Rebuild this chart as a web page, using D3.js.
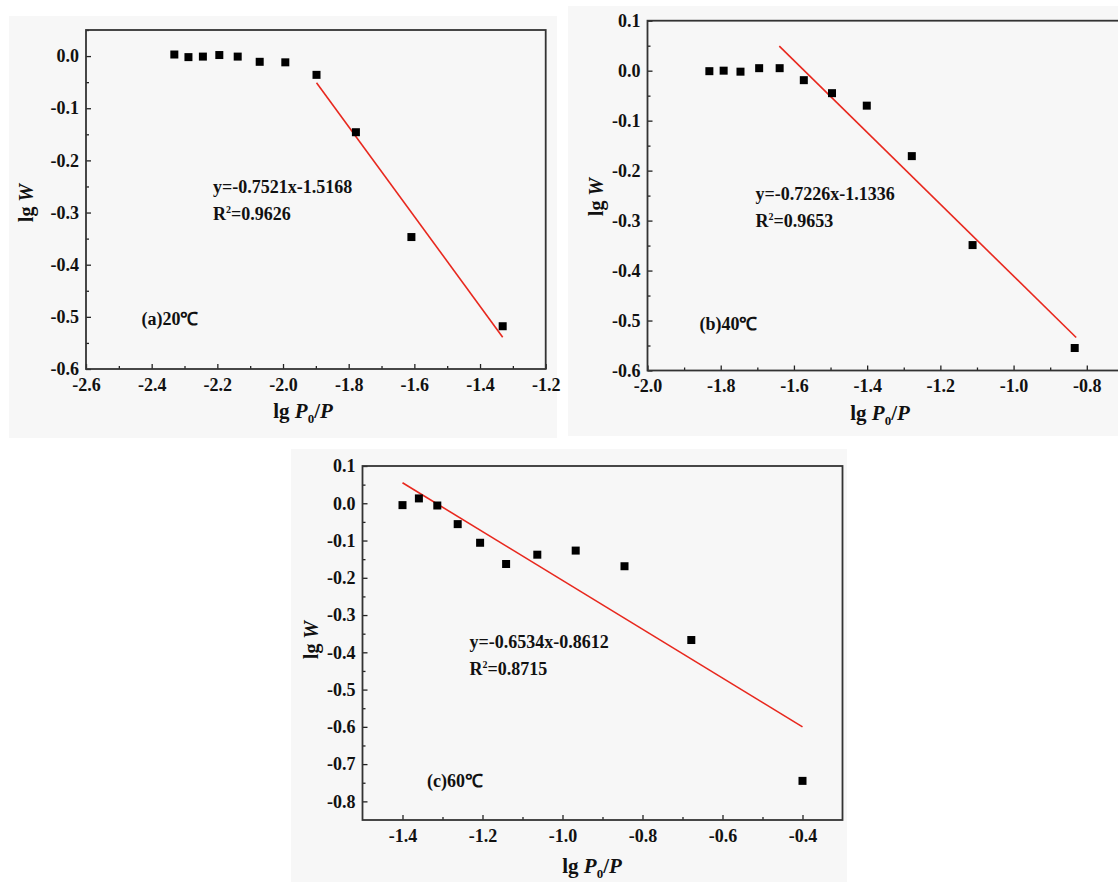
<!DOCTYPE html>
<html>
<head>
<meta charset="utf-8">
<script src="https://cdn.jsdelivr.net/npm/d3@7/dist/d3.min.js"></script>
<style>
  html, body { margin: 0; padding: 0; background: #ffffff; }
  svg { display: block; }
  text { font-family: "Liberation Serif", "Times New Roman", serif; font-weight: bold; fill: #111; }
</style>
</head>
<body>
<svg id="chart" width="1118" height="882"></svg>
<script>
// ---------------- DATA ----------------
// Panel (a) 20 ℃
const aX = [-2.331, -2.288, -2.244, -2.194, -2.138, -2.071, -1.993, -1.898, -1.778, -1.609, -1.331];
const aY = [0.003, -0.002, -0.001, 0.002, -0.001, -0.011, -0.012, -0.036, -0.146, -0.347, -0.518];
const aFitX = [-1.898, -1.331];
const aFitY = [-0.051, -0.539];
// Panel (b) 40 ℃
const bX = [-1.831, -1.792, -1.746, -1.695, -1.639, -1.573, -1.496, -1.401, -1.278, -1.112, -0.833];
const bY = [-0.001, 0.000, -0.002, 0.005, 0.005, -0.019, -0.045, -0.070, -0.171, -0.349, -0.555];
const bFitX = [-1.640, -0.829];
const bFitY = [0.049, -0.534];
// Panel (c) 60 ℃
const cX = [-1.400, -1.359, -1.313, -1.262, -1.206, -1.141, -1.063, -0.967, -0.845, -0.678, -0.400];
const cY = [-0.005, 0.013, -0.006, -0.056, -0.106, -0.163, -0.138, -0.127, -0.169, -0.367, -0.745];
const cFitX = [-1.40, -0.40];
const cFitY = [0.055, -0.600];

// Tick values / labels
const aXTicks = [-2.6, -2.4, -2.2, -2.0, -1.8, -1.6, -1.4, -1.2];
const aXMinor = [-2.5, -2.3, -2.1, -1.9, -1.7, -1.5, -1.3];
const aYTicks = [0.0, -0.1, -0.2, -0.3, -0.4, -0.5, -0.6];
const aYMinor = [0.05, -0.05, -0.15, -0.25, -0.35, -0.45, -0.55];
const bXTicks = [-2.0, -1.8, -1.6, -1.4, -1.2, -1.0, -0.8];
const bXMinor = [-1.9, -1.7, -1.5, -1.3, -1.1, -0.9];
const bYTicks = [0.1, 0.0, -0.1, -0.2, -0.3, -0.4, -0.5, -0.6];
const bYMinor = [0.05, -0.05, -0.15, -0.25, -0.35, -0.45, -0.55];
const cXTicks = [-1.4, -1.2, -1.0, -0.8, -0.6, -0.4];
const cXMinor = [-1.3, -1.1, -0.9, -0.7, -0.5];
const cYTicks = [0.1, 0.0, -0.1, -0.2, -0.3, -0.4, -0.5, -0.6, -0.7, -0.8];
const cYMinor = [0.05, -0.05, -0.15, -0.25, -0.35, -0.45, -0.55, -0.65, -0.75];

const eqTexts = ["y=-0.7521x-1.5168", "y=-0.7226x-1.1336", "y=-0.6534x-0.8612"];
const r2Values = ["0.9626", "0.9653", "0.8715"];
const panelLabels = ["(a)20\u2103", "(b)40\u2103", "(c)60\u2103"];

// ---------------- LAYOUT ----------------
const svg = d3.select("#chart");
const fmt = v => (Math.abs(v) < 1e-9 ? "0.0" : v.toFixed(1));

const panels = [
  { bg: [9, 16, 548, 422], box: [86, 30, 545.7, 369], xd: [-2.6, -1.2], yd: [-0.6, 0.05],
    X: aX, Y: aY, fX: aFitX, fY: aFitY, xt: aXTicks, xm: aXMinor, yt: aYTicks, ym: aYMinor,
    eq: [213, 193, 220], lab: [141.5, 325], xTitle: [303, 418], yTitle: [26, 203] },
  { bg: [568, 6, 560, 430], box: [647.5, 20.7, 1123.4, 370.5], xd: [-2.0, -0.7], yd: [-0.6, 0.1],
    X: bX, Y: bY, fX: bFitX, fY: bFitY, xt: bXTicks, xm: bXMinor, yt: bYTicks, ym: bYMinor,
    eq: [755.5, 200, 227], lab: [699.5, 330], xTitle: [880, 420], yTitle: [596, 197] },
  { bg: [291, 449, 556, 433], box: [362.5, 466, 842.5, 820], xd: [-1.5, -0.3], yd: [-0.85, 0.1],
    X: cX, Y: cY, fX: cFitX, fY: cFitY, xt: cXTicks, xm: cXMinor, yt: cYTicks, ym: cYMinor,
    eq: [469.5, 648, 675], lab: [427, 787], xTitle: [592, 873], yTitle: [311, 640] }
];

panels.forEach((p, i) => {
  const [x0, y0, x1, y1] = p.box;
  const x = d3.scaleLinear().domain(p.xd).range([x0, x1]);
  const y = d3.scaleLinear().domain(p.yd).range([y1, y0]);
  const g = svg.append("g");

  g.append("rect").attr("x", p.bg[0]).attr("y", p.bg[1]).attr("width", p.bg[2]).attr("height", p.bg[3])
    .attr("fill", "#f7f7f7");

  // minor ticks
  g.append("g").attr("transform", `translate(0,${y1})`)
    .call(d3.axisBottom(x).tickValues(p.xm).tickSize(-3).tickFormat(""))
    .call(a => a.select(".domain").remove());
  g.append("g").attr("transform", `translate(${x0},0)`)
    .call(d3.axisLeft(y).tickValues(p.ym).tickSize(-3).tickFormat(""))
    .call(a => a.select(".domain").remove());
  // major ticks
  const xa = g.append("g").attr("transform", `translate(0,${y1})`)
    .call(d3.axisBottom(x).tickValues(p.xt).tickSize(-5).tickPadding(9).tickFormat(fmt));
  xa.select(".domain").remove();
  const ya = g.append("g").attr("transform", `translate(${x0},0)`)
    .call(d3.axisLeft(y).tickValues(p.yt).tickSize(-5).tickPadding(7).tickFormat(fmt));
  ya.select(".domain").remove();
  g.selectAll(".tick line").attr("stroke", "#222").attr("stroke-width", 1.3);
  g.selectAll(".tick text").attr("font-size", 18).attr("fill", "#111");

  // frame
  g.append("rect").attr("x", x0).attr("y", y0).attr("width", x1 - x0).attr("height", y1 - y0)
    .attr("fill", "none").attr("stroke", "#333").attr("stroke-width", 1.8);

  // fit line
  g.append("line")
    .attr("x1", x(p.fX[0])).attr("y1", y(p.fY[0]))
    .attr("x2", x(p.fX[1])).attr("y2", y(p.fY[1]))
    .attr("stroke", "#e8281e").attr("stroke-width", 1.6);

  // points
  const s = 8;
  g.selectAll("rect.pt").data(p.X.map((v, k) => [v, p.Y[k]])).enter().append("rect")
    .attr("class", "pt")
    .attr("x", d => x(d[0]) - s / 2).attr("y", d => y(d[1]) - s / 2)
    .attr("width", s).attr("height", s).attr("fill", "#000");

  // equation
  g.append("text").attr("x", p.eq[0]).attr("y", p.eq[1]).attr("font-size", 18).text(eqTexts[i]);
  const r2 = g.append("text").attr("x", p.eq[0]).attr("y", p.eq[2]).attr("font-size", 18);
  r2.append("tspan").text("R");
  r2.append("tspan").attr("font-size", 10).attr("dy", -7).text("2");
  r2.append("tspan").attr("dy", 7).text("=" + r2Values[i]);

  // panel label
  g.append("text").attr("x", p.lab[0]).attr("y", p.lab[1]).attr("font-size", 18).text(panelLabels[i]);

  // x title
  const xt = g.append("text").attr("x", p.xTitle[0]).attr("y", p.xTitle[1]).attr("font-size", 21)
    .attr("text-anchor", "middle");
  xt.append("tspan").text("lg ");
  xt.append("tspan").attr("font-style", "italic").text("P");
  xt.append("tspan").attr("font-size", 13).attr("dy", 5).text("0");
  xt.append("tspan").attr("dy", -5).text("/");
  xt.append("tspan").attr("font-style", "italic").text("P");

  // y title
  const yt = g.append("text").attr("transform", `translate(${p.yTitle[0]},${p.yTitle[1]}) rotate(-90)`)
    .attr("font-size", 20).attr("text-anchor", "middle").attr("dy", "0.35em");
  yt.append("tspan").text("lg ");
  yt.append("tspan").attr("font-style", "italic").text("W");
});
</script>
</body>
</html>
